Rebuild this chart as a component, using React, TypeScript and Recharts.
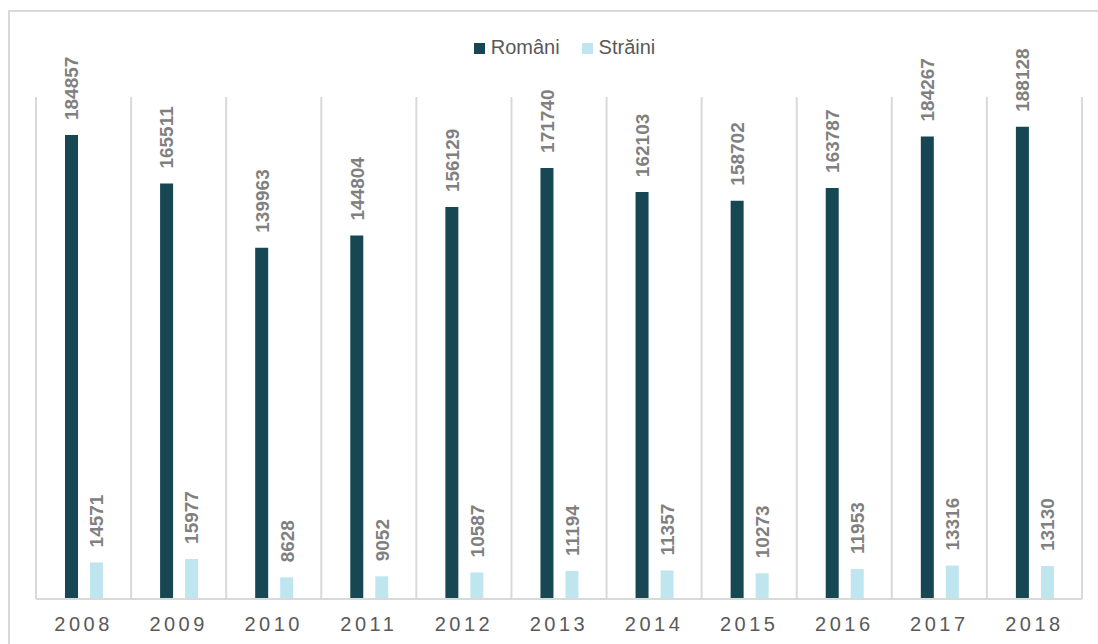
import { BarChart, Bar, XAxis, YAxis, CartesianGrid, Legend, LabelList } from 'recharts'

const years = ['2008', '2009', '2010', '2011', '2012', '2013', '2014', '2015', '2016', '2017', '2018']
const romani = [184857, 165511, 139963, 144804, 156129, 171740, 162103, 158702, 163787, 184267, 188128]
const straini = [14571, 15977, 8628, 9052, 10587, 11194, 11357, 10273, 11953, 13316, 13130]

const data = years.map((year, i) => ({ year, romani: romani[i], straini: straini[i] }))

const DARK = '#174753'
const LIGHT = '#bfe6ef'
const FONT = '"Liberation Sans", Arial, sans-serif'

function ValueLabel(props: any) {
  const { x, y, width, value } = props
  const cx = x + width / 2
  const cy = y - 15
  return (
    <text
      x={cx}
      y={cy}
      transform={`rotate(-90 ${cx} ${cy})`}
      textAnchor="start"
      dy="0.36em"
      fill="#808080"
      fontSize={19}
      fontWeight="bold"
      fontFamily={FONT}
    >
      {value}
    </text>
  )
}

function LegendContent() {
  const items = [
    { name: 'Români', color: DARK },
    { name: 'Străini', color: LIGHT },
  ]
  return (
    <div style={{ display: 'flex', justifyContent: 'center', paddingLeft: 31, fontFamily: FONT, fontSize: 20, lineHeight: '23px', color: '#595959' }}>
      {items.map((it, i) => (
        <div key={it.name} style={{ display: 'flex', alignItems: 'center', marginLeft: i === 0 ? 0 : 22 }}>
          <span style={{ width: 11, height: 11, background: it.color, display: 'inline-block', marginRight: 6, marginTop: 1 }} />
          <span>{it.name}</span>
        </div>
      ))}
    </div>
  )
}

export default function App() {
  return (
    <div style={{ position: 'fixed', left: 0, top: 0, width: 1098, height: 644, background: '#fff', fontFamily: FONT }}>
      <div style={{ position: 'absolute', left: 8, top: 10, width: 1200, height: 800, borderTop: '2px solid #d9d9d9', borderLeft: '2px solid #d9d9d9' }} />
      <div style={{ position: 'absolute', left: 0, top: 0 }}>
        <BarChart
          width={1098}
          height={644}
          data={data}
          margin={{ top: 97, right: 16, bottom: 15, left: 36 }}
          barSize={13}
          barGap={12}
        >
          <CartesianGrid
            horizontal={false}
            stroke="#d9d9d9"
            strokeWidth={2}
            verticalCoordinatesGenerator={({ offset }: any) =>
              Array.from({ length: years.length + 1 }, (_, i) => offset.left + (i * offset.width) / years.length)
            }
          />
          <XAxis
            dataKey="year"
            height={30}
            axisLine={{ stroke: '#d9d9d9', strokeWidth: 2 }}
            tickLine={false}
            tickMargin={12}
            tick={{ fill: '#595959', fontSize: 20, letterSpacing: 3.5, fontFamily: FONT }}
          />
          <YAxis hide domain={[0, 200000]} />
          <Legend verticalAlign="middle" align="center" wrapperStyle={{ top: 36, left: 0, width: 1098 }} content={<LegendContent />} />
          <Bar dataKey="romani" name="Români" fill={DARK} isAnimationActive={false}>
            <LabelList dataKey="romani" content={<ValueLabel />} />
          </Bar>
          <Bar dataKey="straini" name="Străini" fill={LIGHT} isAnimationActive={false}>
            <LabelList dataKey="straini" content={<ValueLabel />} />
          </Bar>
        </BarChart>
      </div>
    </div>
  )
}
